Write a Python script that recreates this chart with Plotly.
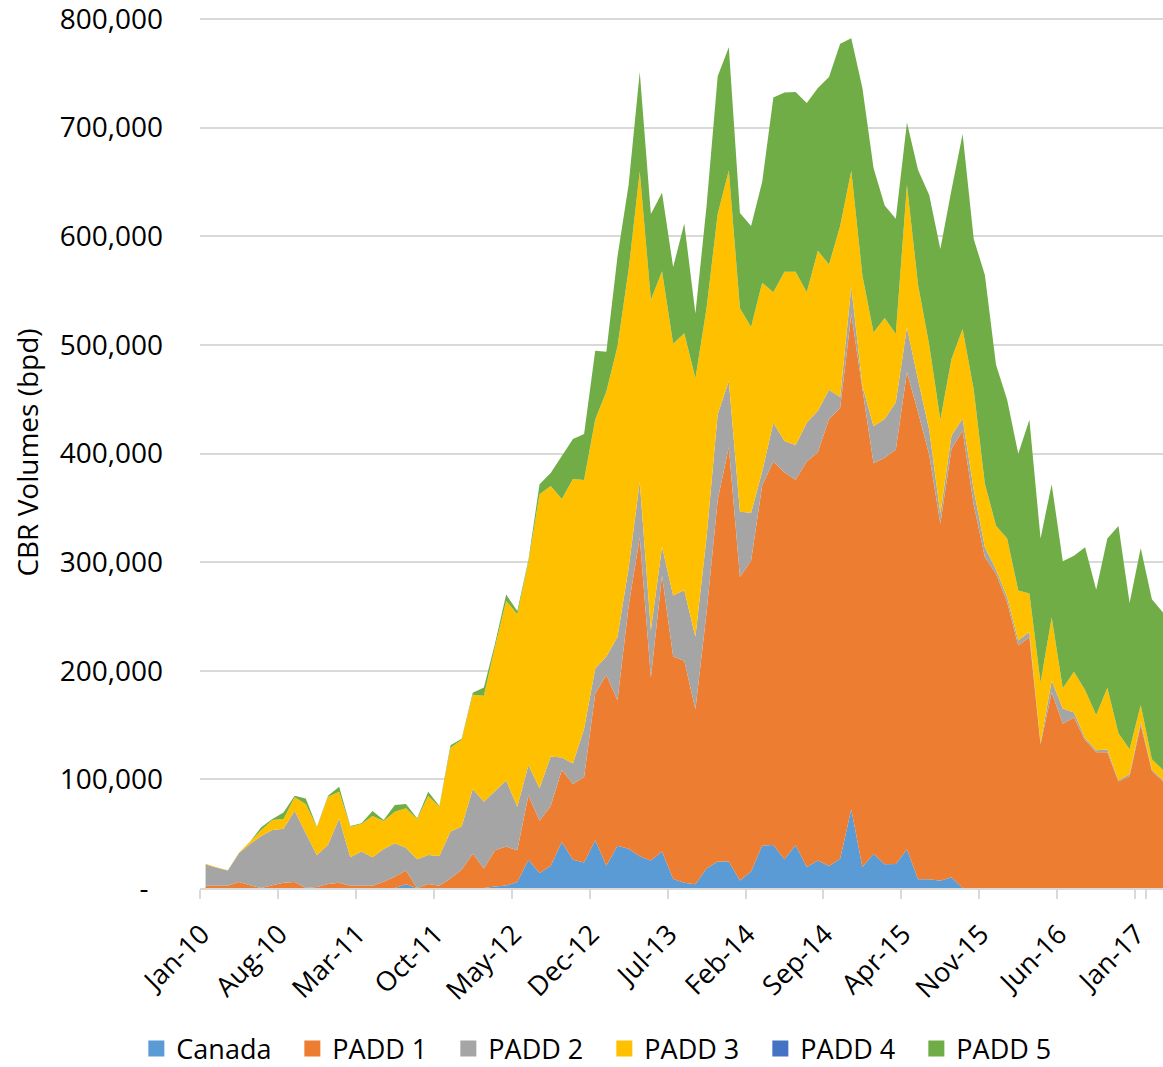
import plotly.graph_objects as go

months = [
    "Jan-10", "Feb-10", "Mar-10", "Apr-10", "May-10", "Jun-10", "Jul-10", "Aug-10", "Sep-10", "Oct-10", "Nov-10", "Dec-10",
    "Jan-11", "Feb-11", "Mar-11", "Apr-11", "May-11", "Jun-11", "Jul-11", "Aug-11", "Sep-11", "Oct-11", "Nov-11", "Dec-11",
    "Jan-12", "Feb-12", "Mar-12", "Apr-12", "May-12", "Jun-12", "Jul-12", "Aug-12", "Sep-12", "Oct-12", "Nov-12", "Dec-12",
    "Jan-13", "Feb-13", "Mar-13", "Apr-13", "May-13", "Jun-13", "Jul-13", "Aug-13", "Sep-13", "Oct-13", "Nov-13", "Dec-13",
    "Jan-14", "Feb-14", "Mar-14", "Apr-14", "May-14", "Jun-14", "Jul-14", "Aug-14", "Sep-14", "Oct-14", "Nov-14", "Dec-14",
    "Jan-15", "Feb-15", "Mar-15", "Apr-15", "May-15", "Jun-15", "Jul-15", "Aug-15", "Sep-15", "Oct-15", "Nov-15", "Dec-15",
    "Jan-16", "Feb-16", "Mar-16", "Apr-16", "May-16", "Jun-16", "Jul-16", "Aug-16", "Sep-16", "Oct-16", "Nov-16", "Dec-16",
    "Jan-17", "Feb-17", "Mar-17",
]

tick_labels = ["Jan-10", "Aug-10", "Mar-11", "Oct-11", "May-12", "Dec-12", "Jul-13",
               "Feb-14", "Sep-14", "Apr-15", "Nov-15", "Jun-16", "Jan-17"]

y_tick_values = [0, 100000, 200000, 300000, 400000, 500000, 600000, 700000, 800000]
y_tick_labels = ["-\u00a0\u00a0", "100,000", "200,000", "300,000", "400,000",
                 "500,000", "600,000", "700,000", "800,000"]

canada = [0, 0, 0, 0, 0, 0, 0, 0, 0, 0,
          0, 0, 0, 0, 0, 0, 0, 0, 3400, 0,
          0, 0, 0, 0, 0, 0, 1300, 2300, 5500, 26000,
          13700, 20200, 42300, 26000, 23400, 43900, 20500, 39000, 36100, 29300,
          25400, 33700, 8300, 4900, 3400, 18000, 24400, 24400, 6800, 15200,
          39100, 39600, 26400, 39600, 19300, 25400, 20300, 26900, 72600, 19300,
          31500, 21800, 22000, 35600, 8000, 8000, 6700, 9900, 0, 0,
          0, 0, 0, 0, 0, 0, 0, 0, 0, 0,
          0, 0, 0, 0, 0, 0, 0]

padd1 = [2100, 2100, 2100, 5500, 2500, 0, 2500, 4900, 5500, 0,
         1000, 3700, 4900, 2100, 2100, 2100, 5800, 10400, 12600, 0,
         3700, 2100, 8800, 16900, 31600, 17900, 33500, 35800, 29300, 59300,
         48100, 55300, 66400, 69700, 78800, 135100, 175600, 133700, 223400, 293600,
         168300, 254100, 204900, 204400, 161000, 235700, 332700, 381500, 279500, 286000,
         331700, 353000, 356000, 336200, 373300, 375800, 411400, 415000, 455600, 440300,
         359600, 374400, 381400, 439100, 430000, 390900, 328700, 394500, 420900, 352900,
         304600, 289400, 263200, 223200, 231000, 132400, 180300, 151300, 157000, 136300,
         125000, 125000, 98000, 103000, 150000, 108000, 98000]

padd2 = [19500, 16500, 13900, 26400, 38000, 47900, 50900, 49700, 65700, 50300,
         29100, 36200, 59000, 26100, 31400, 26100, 30100, 30700, 21100, 26400,
         26700, 27400, 43300, 39700, 59500, 61500, 54400, 60900, 40100, 27600,
         30000, 45600, 11400, 18900, 44300, 23000, 17100, 58500, 35100, 51200,
         43900, 26300, 56100, 64900, 66800, 69200, 79000, 60900, 60000, 44200,
         12700, 35600, 29000, 32000, 35600, 38100, 26900, 10100, 25400, 2600,
         34000, 35500, 43700, 41400, 29800, 22900, 9200, 11900, 11100, 13800,
         9200, 3700, 4600, 4600, 4700, 1400, 10500, 14000, 4500, 1800,
         1700, 2500, 1000, 2000, 3000, 1000, 1000]

padd3 = [700, 400, 300, 600, 2200, 5500, 9200, 8900, 12300, 27100,
         25800, 44200, 24800, 28300, 25400, 38100, 25800, 29200, 36300, 37100,
         54300, 45400, 77100, 79800, 86900, 97700, 132800, 165300, 177100, 187200,
         270800, 249000, 237900, 262000, 229100, 229200, 243900, 267300, 274700, 285400,
         303900, 253700, 231700, 236500, 238100, 210800, 184400, 193700, 187400, 171100,
         173700, 120300, 155900, 159500, 120300, 147300, 115300, 157500, 106700, 101600,
         86400, 93000, 63000, 131000, 87400, 78200, 86400, 70800, 82700, 91900,
         58400, 40500, 53900, 46100, 35400, 55200, 58300, 18500, 37500, 44200,
         32600, 56900, 43400, 22700, 15500, 9500, 9600]

padd4 = [0] * 87

padd5 = [0, 0, 0, 0, 0, 2500, 900, 5900, 1500, 5100,
         600, 900, 4600, 600, 600, 4600, 900, 6100, 3900, 600,
         4000, 600, 2300, 1000, 1700, 7500, 3200, 5900, 3000, 1900,
         9100, 12000, 39800, 36800, 42400, 63400, 36600, 82900, 78000, 91700,
         79000, 72200, 70700, 101000, 59500, 94100, 126800, 113500, 87800, 93000,
         92900, 179300, 165100, 165600, 174200, 149900, 172700, 167600, 121900, 172700,
         151300, 103600, 106000, 57600, 105800, 138000, 157300, 155500, 179400, 138900,
         192200, 148000, 127800, 125900, 159900, 132800, 122700, 117000, 106900, 131400,
         115300, 137300, 190900, 134700, 144600, 147400, 145100]

series_names = ["Canada", "PADD 1", "PADD 2", "PADD 3", "PADD 4", "PADD 5"]
series_values = [canada, padd1, padd2, padd3, padd4, padd5]
series_colors = ["#5B9BD5", "#ED7D31", "#A5A5A5", "#FFC000", "#4472C4", "#70AD47"]

fig = go.Figure()
for name, vals, col in zip(series_names, series_values, series_colors):
    fig.add_trace(go.Scatter(
        x=months, y=vals, name=name, stackgroup="cbr", mode="none",
        fillcolor=col, showlegend=False,
    ))
# legend keys (square swatches like the original)
for name, col in zip(series_names, series_colors):
    fig.add_trace(go.Scatter(
        x=[None], y=[None], name=name, mode="markers",
        marker=dict(symbol="square", size=16, color=col), showlegend=True,
    ))

fig.update_layout(
    template="none",
    width=1163, height=1067,
    margin=dict(l=200, r=0, t=17, b=179, autoexpand=False),
    paper_bgcolor="white", plot_bgcolor="white",
    font=dict(family="Open Sans", size=27, color="black"),
    showlegend=True,
    legend=dict(
        orientation="h", traceorder="normal",
        x=-0.0661, xanchor="left", y=-0.1848, yanchor="middle",
        font=dict(size=27), entrywidth=111, entrywidthmode="pixels",
        bgcolor="rgba(0,0,0,0)", itemsizing="trace", borderwidth=0,
    ),
    xaxis=dict(
        type="category", categoryorder="array", categoryarray=months,
        range=[-0.5, 86.0],
        tickmode="array", tickvals=tick_labels, ticktext=tick_labels,
        tickangle=-45, ticks="outside", ticklen=9, tickwidth=1.5,
        tickcolor="#D9D9D9", tickson="boundaries",
        ticklabelstandoff=18, ticklabelshift=-4,
        showline=True, linecolor="#D9D9D9", linewidth=1.5,
        showgrid=False, zeroline=False, automargin=False,
        tickfont=dict(size=27),
    ),
    yaxis=dict(
        range=[0, 801841], tickmode="array",
        tickvals=y_tick_values, ticktext=y_tick_labels,
        showgrid=True, gridcolor="#D9D9D9", gridwidth=1.5,
        zeroline=False, showline=False, ticks="",
        ticklabelstandoff=36, automargin=False, ticklabeloverflow="allow",
        tickfont=dict(size=28),
        title=dict(text="CBR Volumes (bpd)", font=dict(size=28), standoff=12),
    ),
)

fig.write_html("out.html",
               config={"displayModeBar": False},
               post_script="document.body.style.margin='0px';document.body.style.overflow='hidden';")
